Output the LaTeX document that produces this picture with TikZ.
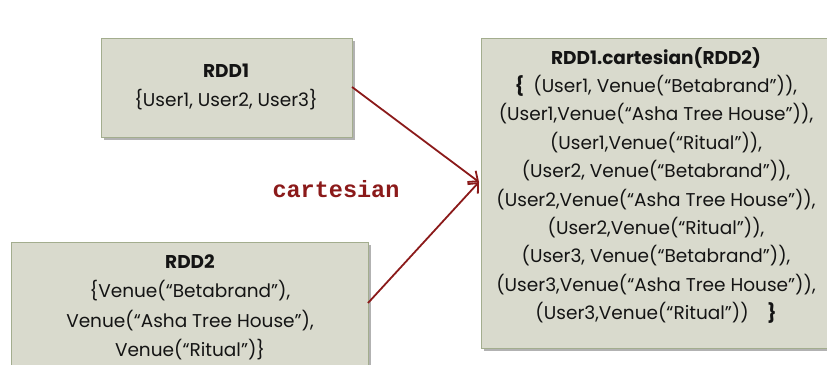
\documentclass[tikz,border=0pt]{standalone}
\usepackage{fontspec}
\setmainfont{Poppins}
\setmonofont{Liberation Mono}
\usetikzlibrary{shadows,arrows.meta}
\definecolor{boxfill}{HTML}{D9DACD}
\definecolor{boxline}{HTML}{A3AD8E}
\definecolor{flow}{HTML}{8B1A1A}
\tikzset{
  rddbox/.style={draw=boxline, line width=0.8pt, fill=boxfill, inner sep=0pt,
    drop shadow={shadow xshift=3pt, shadow yshift=-3pt, fill=black!55, opacity=0.55}},
  rddtext/.style={align=center, font=\fontsize{18.5}{28.4}\selectfont, text=black!92, inner sep=0pt},
  flowline/.style={draw=flow, line width=1.8pt, -{Straight Barb[length=8pt,width=14pt,line width=1.8pt]}}
}
\begin{document}
\begin{tikzpicture}[x=1pt,y=-1pt]
\useasboundingbox (0,0) rectangle (827,364);
\begin{scope}
\clip (0,0) rectangle (827,364);
% the three data sets
\node[rddbox, minimum width=251pt, minimum height=99pt, anchor=north west] (rdd1) at (101,38) {};
\node[rddbox, minimum width=357pt, minimum height=140pt, anchor=north west] (rdd2) at (11,242) {};
\node[rddbox, minimum width=350pt, minimum height=310pt, anchor=north west] (prod) at (481,38) {};
\end{scope}
% labels
\node[rddtext, anchor=north] (t1) at (226,64) {\textbf{RDD1}\\\{User1, User2, User3\}};
\node[rddtext, anchor=north, font=\fontsize{18.5}{29.5}\selectfont] (t2) at (190,254) {\textbf{RDD2}\\\{Venue(“Betabrand”),\\Venue(“Asha Tree House”),\\Venue(“Ritual”)\}};
\node[rddtext, anchor=north] (t3) at (656,47) {\textbf{RDD1.cartesian(RDD2)}\\
\textbf{\{}\enspace(User1, Venue(“Betabrand”)),\\
(User1,Venue(“Asha Tree House”)),\\
(User1,Venue(“Ritual”)),\\
(User2, Venue(“Betabrand”)),\\
(User2,Venue(“Asha Tree House”)),\\
(User2,Venue(“Ritual”)),\\
(User3, Venue(“Betabrand”)),\\
(User3,Venue(“Asha Tree House”)),\\
(User3,Venue(“Ritual”))\quad\textbf{\}}};
% the operation
\coordinate (tip) at (479,182);
\coordinate (out1) at (352,87);
\coordinate (out2) at (368,303);
\draw[flowline] (out1) -- (tip);
\draw[flowline] (out2) -- (tip);
\node[font=\ttfamily\bfseries\fontsize{23.5}{24}\selectfont, text=flow, anchor=base] (op) at (336,197) {cartesian};
\end{tikzpicture}
\end{document}
